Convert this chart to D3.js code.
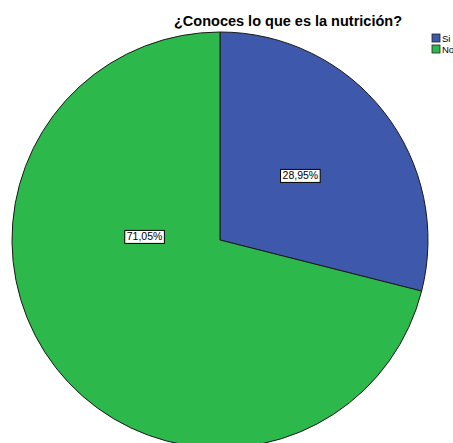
<!DOCTYPE html>
<html>
<head>
<meta charset="utf-8">
<script src="https://cdn.jsdelivr.net/npm/d3@7"></script>
<style>
  html, body { margin: 0; padding: 0; background: #fff; }
  svg { display: block; }
</style>
</head>
<body>
<svg id="chart" width="453" height="443"></svg>
<script>
// Survey answers and their shares (percent)
const categories = ["Si", "No"];
const values = [28.95, 71.05];
const colors = ["#3e58ab", "#2db84b"];
const title = "¿Conoces lo que es la nutrición?";

const svg = d3.select("#chart");
const cx = 220, cy = 240, r = 208;

const pie = d3.pie().sort(null).value(d => d.value);
const arcs = pie(categories.map((c, i) => ({ cat: c, value: values[i] })));
const arc = d3.arc().innerRadius(0).outerRadius(r);
const color = d3.scaleOrdinal().domain(categories).range(colors);

const g = svg.append("g").attr("transform", `translate(${cx},${cy})`);

g.selectAll("path.slice")
  .data(arcs)
  .join("path")
  .attr("class", "slice")
  .attr("d", arc)
  .attr("fill", d => color(d.data.cat))
  .attr("stroke", "#1a1a1a")
  .attr("stroke-width", 1);

// Label placement per slice: angle shift from the slice middle (radians)
// and distance from the centre as a fraction of the radius
const labelPlacement = [
  { shift: -0.014, dist: 0.495 },
  { shift: 0.706, dist: 0.363 }
];
const fmt = v => v.toFixed(2).replace(".", ",") + "%";

arcs.forEach((d, i) => {
  const p = labelPlacement[i];
  const a = (d.startAngle + d.endAngle) / 2 + p.shift;
  const lx = Math.sin(a) * r * p.dist;
  const ly = -Math.cos(a) * r * p.dist;
  const lg = g.append("g").attr("transform", `translate(${lx},${ly})`);
  const t = lg.append("text")
    .attr("text-anchor", "middle")
    .attr("dy", "0.36em")
    .attr("font-family", "Liberation Sans, Arial, sans-serif")
    .attr("font-size", 10.5)
    .attr("fill", "#000")
    .text(fmt(d.data.value));
  const bb = t.node().getBBox();
  lg.insert("rect", "text")
    .attr("x", bb.x - 2)
    .attr("y", bb.y)
    .attr("width", bb.width + 4)
    .attr("height", bb.height + 1)
    .attr("fill", "#fff")
    .attr("stroke", "#000")
    .attr("stroke-width", 1);
});

// Title
svg.append("text")
  .attr("x", 288)
  .attr("y", 26)
  .attr("text-anchor", "middle")
  .attr("font-family", "Liberation Sans, Arial, sans-serif")
  .attr("font-weight", "bold")
  .attr("font-size", 14.5)
  .attr("fill", "#000")
  .text(title);

// Legend
const legend = svg.append("g").attr("transform", "translate(432,34)");
const items = legend.selectAll("g")
  .data(categories)
  .join("g")
  .attr("transform", (d, i) => `translate(0,${i * 11})`);
items.append("rect")
  .attr("width", 8)
  .attr("height", 8)
  .attr("fill", d => color(d))
  .attr("stroke", "#222")
  .attr("stroke-width", 0.8);
items.append("text")
  .attr("x", 10)
  .attr("y", 7.5)
  .attr("font-family", "Liberation Sans, Arial, sans-serif")
  .attr("font-size", 9.5)
  .attr("fill", "#000")
  .text(d => d);
</script>
</body>
</html>
